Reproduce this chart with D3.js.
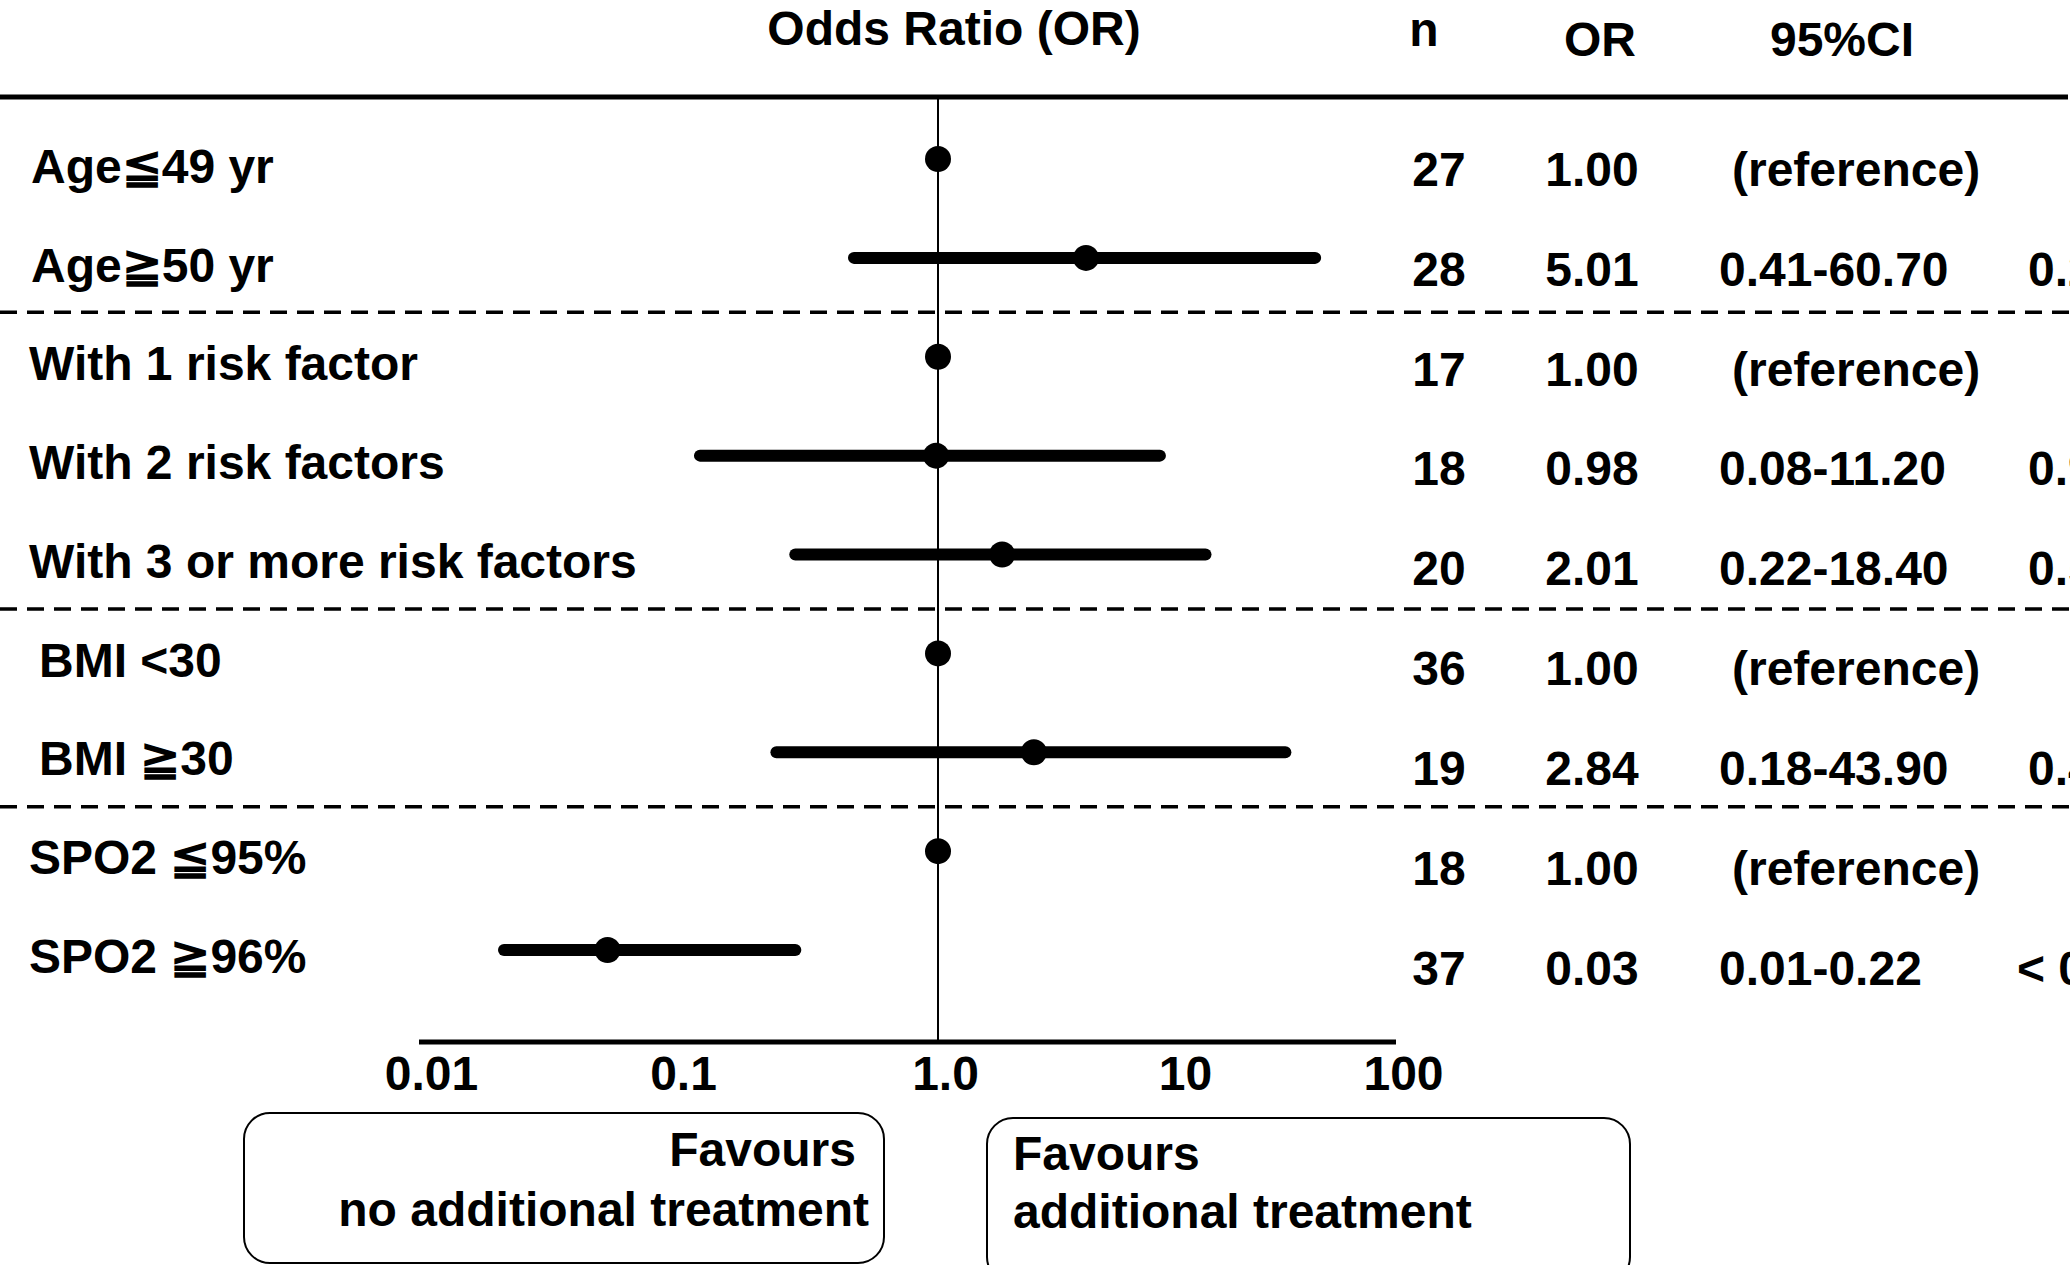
<!DOCTYPE html>
<html>
<head>
<meta charset="utf-8">
<script src="https://cdn.jsdelivr.net/npm/d3@7"></script>
<style>
  body { margin: 0; background: #fff; }
  svg text { font-family: "Liberation Sans", Arial, sans-serif; font-weight: bold; fill: #000; }
</style>
</head>
<body>
<div id="chart"></div>
<script>
// rows, top to bottom
const labels = [
  "Age≦49 yr",
  "Age≧50 yr",
  "With 1 risk factor",
  "With 2 risk factors",
  "With 3 or more risk factors",
  "BMI <30",
  "BMI ≧30",
  "SPO2 ≦95%",
  "SPO2 ≧96%"
];
const nValues = [27, 28, 17, 18, 20, 36, 19, 18, 37];
const orValues = [1.0, 5.01, 1.0, 0.98, 2.01, 1.0, 2.84, 1.0, 0.03];
// null = reference group
const ciLow = [null, 0.41, null, 0.08, 0.22, null, 0.18, null, 0.01];
const ciHigh = [null, 60.7, null, 11.2, 18.4, null, 43.9, null, 0.22];
// last column is cut off by the picture edge
const pValues = ["", "0.21", "", "0.99", "0.55", "", "0.46", "", "< 0.01"];
// a dashed line goes under these rows
const groupEnds = [1, 4, 6];

const tickValues = [0.01, 0.1, 1, 10, 100];
const tickLabels = ["0.01", "0.1", "1.0", "10", "100"];
const headers = ["n", "OR", "95%CI"];

const width = 2070;
const height = 1265;
const fontSize = "48px";
const fmt = d3.format(".2f");

const rows = labels.map((label, i) => ({
  label: label,
  n: nValues[i],
  or: orValues[i],
  lo: ciLow[i],
  hi: ciHigh[i],
  p: pValues[i]
}));

const svg = d3
  .select("#chart")
  .append("svg")
  .attr("width", width)
  .attr("height", height);

// scales
// the original plot is hand drawn: the right half is a little tighter than the left
const x = d3.scaleLog().domain([0.01, 1, 100]).range([504, 938, 1361]);
// printed axis labels in the original are not evenly spaced either
const xAxisScale = d3
  .scaleLog()
  .domain(tickValues)
  .range([431, 683, 945, 1185, 1403]);

const yDot = d3.scalePoint().domain(labels).range([159, 950]);
const yLabel = d3.scalePoint().domain(labels).range([166, 956]);
const yTable = d3.scalePoint().domain(labels).range([169, 968]);

const topY = 97;
const axisY = 1042;

// header
svg.append("text")
  .attr("x", 954)
  .attr("y", 45)
  .attr("text-anchor", "middle")
  .style("font-size", fontSize)
  .text("Odds Ratio (OR)");

const headerPos = [
  { x: 1424, y: 46 },
  { x: 1600, y: 56 },
  { x: 1842, y: 56 }
];
svg.selectAll(".head")
  .data(headers)
  .enter()
  .append("text")
  .attr("class", "head")
  .attr("x", (d, i) => headerPos[i].x)
  .attr("y", (d, i) => headerPos[i].y)
  .attr("text-anchor", "middle")
  .style("font-size", fontSize)
  .text(d => d);

// thick line under header
svg.append("line")
  .attr("x1", 0)
  .attr("x2", width - 2)
  .attr("y1", topY)
  .attr("y2", topY)
  .attr("stroke", "#000")
  .attr("stroke-width", 5);

// dashed group separators
const step = yDot.step();
svg.selectAll(".sep")
  .data(groupEnds)
  .enter()
  .append("line")
  .attr("class", "sep")
  .attr("x1", 0)
  .attr("x2", width)
  .attr("y1", d => yDot(labels[d]) + step / 2 + 5)
  .attr("y2", d => yDot(labels[d]) + step / 2 + 5)
  .attr("stroke", "#000")
  .attr("stroke-width", 3.5)
  .attr("stroke-dasharray", "17 10");

// line of no effect
svg.append("line")
  .attr("x1", x(1))
  .attr("x2", x(1))
  .attr("y1", topY)
  .attr("y2", axisY)
  .attr("stroke", "#000")
  .attr("stroke-width", 2);

// confidence intervals
svg.selectAll(".ci")
  .data(rows.filter(d => d.lo !== null))
  .enter()
  .append("line")
  .attr("class", "ci")
  .attr("x1", d => x(d.lo))
  .attr("x2", d => x(d.hi))
  .attr("y1", d => yDot(d.label))
  .attr("y2", d => yDot(d.label))
  .attr("stroke", "#000")
  .attr("stroke-width", 12)
  .attr("stroke-linecap", "round");

// point estimates
svg.selectAll(".dot")
  .data(rows)
  .enter()
  .append("circle")
  .attr("class", "dot")
  .attr("cx", d => x(d.or))
  .attr("cy", d => yDot(d.label))
  .attr("r", 13)
  .attr("fill", "#000");

// row labels
svg.selectAll(".lab")
  .data(rows)
  .enter()
  .append("text")
  .attr("class", "lab")
  .attr("x", d => (d.label.startsWith("BMI") ? 39 : d.label.startsWith("Age") ? 31 : 29))
  .attr("y", d => yLabel(d.label))
  .attr("dy", "0.35em")
  .style("font-size", fontSize)
  .text(d => d.label);

// table columns
const cols = [
  { x: 1439, anchor: "middle", val: d => d.n },
  { x: 1592, anchor: "middle", val: d => fmt(d.or) },
  { x: 1719, anchor: "start", val: d => (d.lo === null ? "(reference)" : fmt(d.lo) + "-" + fmt(d.hi)) },
  { x: 2028, anchor: "start", val: d => d.p }
];
cols.forEach((c, ci) => {
  svg.selectAll(".col" + ci)
    .data(rows)
    .enter()
    .append("text")
    .attr("class", "col" + ci)
    .attr("x", d => {
      if (ci === 2 && d.lo === null) return c.x + 13;
      if (ci === 3 && d.p.startsWith("<")) return c.x - 11;
      return c.x;
    })
    .attr("y", d => yTable(d.label))
    .attr("dy", "0.35em")
    .attr("text-anchor", c.anchor)
    .style("font-size", fontSize)
    .text(c.val);
});

// x axis
const xAxis = d3
  .axisBottom(xAxisScale)
  .tickValues(tickValues)
  .tickFormat((d, i) => tickLabels[i])
  .tickSize(0)
  .tickPadding(14);

const axisG = svg.append("g")
  .attr("transform", `translate(0, ${axisY})`)
  .call(xAxis);
axisG.select(".domain")
  .attr("stroke", "#000")
  .attr("stroke-width", 5)
  .attr("d", `M${xAxisScale(0.01) - 12},0H${xAxisScale(100) - 7}`);
axisG.selectAll("text")
  .style("font-family", "\"Liberation Sans\", Arial, sans-serif")
  .style("font-weight", "bold")
  .style("font-size", fontSize)
  .attr("fill", "#000");

// favour boxes
const boxes = [
  { x: 244, y: 1113, w: 640, h: 150, anchor: "end", tx: [856, 869], lines: ["Favours", "no additional treatment"], ty: [1166, 1226] },
  { x: 987, y: 1118, w: 643, h: 165, anchor: "start", tx: [1013, 1013], lines: ["Favours", "additional treatment"], ty: [1170, 1228] }
];
boxes.forEach(b => {
  svg.append("rect")
    .attr("x", b.x)
    .attr("y", b.y)
    .attr("width", b.w)
    .attr("height", b.h)
    .attr("rx", 26)
    .attr("fill", "none")
    .attr("stroke", "#000")
    .attr("stroke-width", 2);
  b.lines.forEach((t, i) => {
    svg.append("text")
      .attr("x", b.tx[i])
      .attr("y", b.ty[i])
      .attr("text-anchor", b.anchor)
      .style("font-size", fontSize)
      .text(t);
  });
});
</script>
</body>
</html>
